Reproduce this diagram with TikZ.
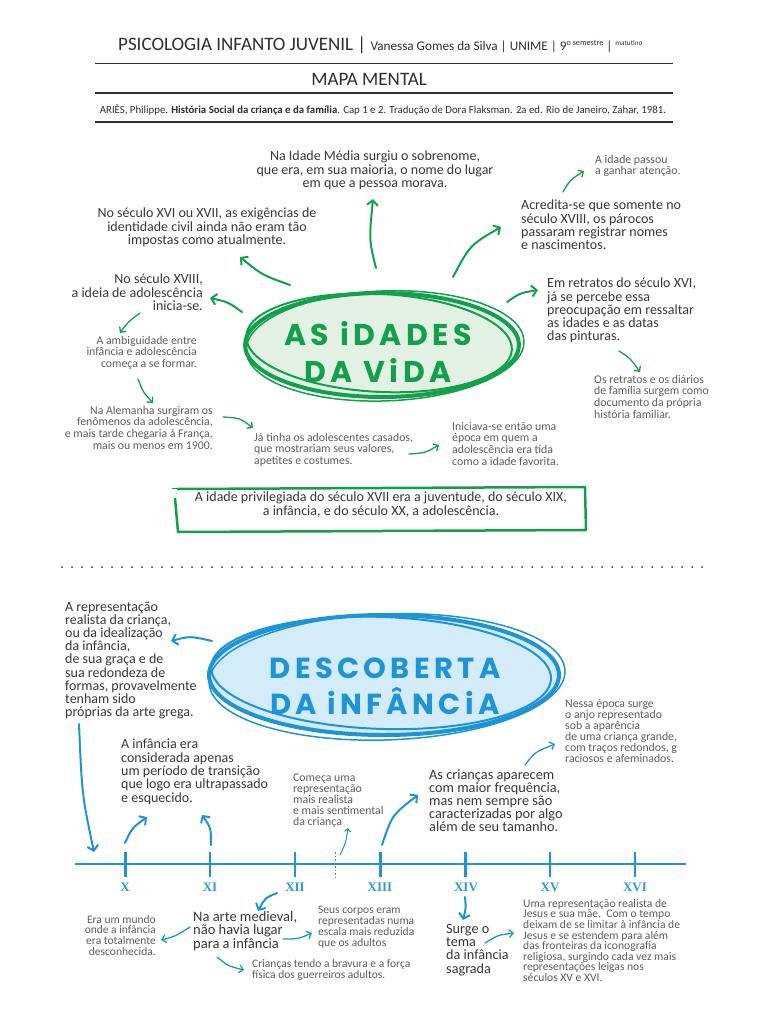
\documentclass[tikz,border=0pt]{standalone}
\usepackage{fontspec}
\setmainfont{Carlito}
\newfontfamily\titlefont{Poppins}[LetterSpace=15]
\newfontfamily\romfont{Liberation Serif}
\usetikzlibrary{arrows.meta}
\definecolor{txt}{HTML}{383838}
\definecolor{txtl}{HTML}{5E5E5E}
\definecolor{hdr}{HTML}{2E2E2E}
\definecolor{gr}{HTML}{12A04B}
\definecolor{grfill}{HTML}{E3F1E5}
\definecolor{bl}{HTML}{1D93D8}
\definecolor{blfill}{HTML}{D4ECFA}
\definecolor{tealc}{HTML}{19A98A}
\definecolor{romc}{HTML}{2A9AE0}
\tikzset{
  main/.style={inner sep=0pt, text=txt, font=\fontsize{14}{13.2}\selectfont},
  small/.style={inner sep=0pt, text=txtl, font=\fontsize{11.8}{11.6}\selectfont},
  garrow/.style={draw=gr, line width=2pt, line cap=round, -{Straight Barb[length=5pt,width=11pt]}},
  gsarrow/.style={draw=gr, line width=1.3pt, line cap=round, -{Straight Barb[length=4pt,width=8pt]}},
  barrow/.style={draw=bl, line width=2pt, line cap=round, -{Straight Barb[length=5pt,width=11pt]}},
  bsarrow/.style={draw=bl, line width=1.3pt, line cap=round, -{Straight Barb[length=4pt,width=8pt,color=tealc]}},
  rom/.style={inner sep=0pt, text=romc, font=\romfont\bfseries\fontsize{13}{14}\selectfont},
  tick/.style={draw=bl, line width=2.5pt},
  rule/.style={draw=hdr, line width=1.2pt}
}
\begin{document}
\begin{tikzpicture}[x=1pt,y=-1pt]
\useasboundingbox (0,0) rectangle (768,1024);
\fill[white] (0,0) rectangle (768,1024);

% ---------- header ----------
\node[anchor=base west, inner sep=0pt, text=hdr, font=\fontsize{19}{20}\selectfont] (hd) at (118,51)
  {PSICOLOGIA INFANTO JUVENIL | {\fontsize{13.2}{14}\selectfont Vanessa Gomes da Silva | UNIME | 9\raisebox{5pt}{\fontsize{8.2}{9}\selectfont o semestre} | \raisebox{5pt}{\fontsize{7.2}{8}\selectfont matutino}}};
\draw[rule, line width=1pt] (95,64) -- (673,64);
\node[anchor=base, inner sep=0pt, text=hdr, font=\fontsize{19}{20}\selectfont] (mm) at (369,85.5) {MAPA MENTAL};
\draw[rule, line width=1.6pt] (95,93) -- (673,93);
\node[anchor=base, inner sep=0pt, text=hdr, font=\fontsize{10.8}{12}\selectfont] (ref) at (383,113.5)
  {ARIÈS, Philippe. \textbf{História Social da criança e da família}. Cap 1 e 2. Tradução de Dora Flaksman. 2a ed. Rio de Janeiro, Zahar, 1981.};
\draw[rule, line width=1.6pt] (95,122) -- (673,122);

% ---------- top ellipse ----------
\fill[grfill] (382,344) ellipse [x radius=136, y radius=52];
\draw[gr, line width=4pt] (382,345) ellipse [x radius=137, y radius=52];
\draw[gr, line width=2pt, rotate around={-3:(382,344)}] (379,343) ellipse [x radius=133, y radius=49];
\draw[gr, line width=1.5pt, rotate around={2:(382,344)}] (385,346) ellipse [x radius=139, y radius=55];
\node[inner sep=0pt, text=gr, align=center, font=\titlefont\bfseries\fontsize{30}{37}\selectfont] (t1) at (378,352) {AS iDADES\\DA ViDA};

% ---------- top texts ----------
\node[main, align=center, anchor=north] (n1) at (375,151) {Na Idade Média surgiu o sobrenome,\\que era, em sua maioria, o nome do lugar\\em que a pessoa morava.};
\node[main, align=center, anchor=north] (n2) at (207,208) {No século XVI ou XVII, as exigências de\\identidade civil ainda não eram tão\\impostas como atualmente.};
\node[main, align=right, anchor=north east] (n3) at (203,274) {No século XVIII,\\a ideia de adolescência\\inicia-se.};
\node[small, align=right, anchor=north east] (n4) at (197,336) {A ambiguidade entre\\infância e adolescência\\começa a se formar.};
\node[small, align=right, anchor=north east] (n5) at (213,406) {Na Alemanha surgiram os\\fenômenos da adolescência,\\e mais tarde chegaria á França,\\mais ou menos em 1900.};
\node[small, align=left, anchor=north west] (n6) at (254,433) {Já tinha os adolescentes casados,\\que mostrariam seus valores,\\apetites e costumes.};
\node[small, align=left, anchor=north west] (n7) at (452,422) {Iniciava-se então uma\\época em quem a\\adolescência era tida\\como a idade favorita.};
\node[small, align=left, anchor=north west] (n8) at (594,375) {Os retratos e os diários\\de família surgem como\\documento da própria\\história familiar.};
\node[main, align=left, anchor=north west] (n9) at (547,278) {Em retratos do século XVI,\\já se percebe essa\\preocupação em ressaltar\\as idades e as datas\\das pinturas.};
\node[main, align=left, anchor=north west] (n10) at (521,200) {Acredita-se que somente no\\século XVIII, os párocos\\passaram registrar nomes\\e nascimentos.};
\node[small, align=left, anchor=north west] (n11) at (595,155) {A idade passou\\a ganhar atenção.};

% ---------- top arrows ----------
\draw[garrow] (376,268) .. controls (369,240) .. (373,199);
\draw[garrow] (290,285) .. controls (262,275) .. (240,257);
\draw[garrow] (242,312) .. controls (228,302) .. (210,298);
\draw[gsarrow] (140,313) .. controls (128,322) .. (120,333);
\draw[gsarrow] (138,379) .. controls (143,392) .. (153,403);
\draw[gsarrow] (223,417) .. controls (240,418) .. (253,428);
\draw[gsarrow] (409,454) .. controls (425,453) .. (439,445);
\draw[garrow] (453,277) .. controls (470,245) .. (501,227);
\draw[gsarrow] (563,192) .. controls (570,180) .. (584,171);
\draw[garrow] (507,302) .. controls (520,293) .. (538,290);
\draw[gsarrow] (619,351) .. controls (630,358) .. (640,372);

% ---------- box ----------
\draw[gr, line width=2.5pt, line join=round] (177,489) -- (585,487) -- (586,530) -- (178,532) -- (175,498);
\draw[gr, line width=1pt] (172,488) -- (420,488);
\node[main, align=center, anchor=north] (bx) at (381,492) {A idade privilegiada do século XVII era a juventude, do século XIX,\\a infância, e do século XX, a adolescência.};

% ---------- dotted separator ----------
\draw[draw=hdr, line width=2pt, line cap=round, dash pattern=on 0pt off 10pt] (62,567) -- (706,567);

% ---------- bottom ellipse ----------
\fill[blfill] (384,675) ellipse [x radius=174, y radius=59];
\draw[bl, line width=4pt] (384,675) ellipse [x radius=175, y radius=60];
\draw[bl, line width=2pt, rotate around={-2:(384,675)}] (381,673) ellipse [x radius=170, y radius=56];
\draw[bl, line width=1.5pt, rotate around={2:(384,675)}] (387,677) ellipse [x radius=178, y radius=63];
\node[inner sep=0pt, text=bl, align=center, font=\titlefont\bfseries\fontsize{29}{36}\selectfont] (t2) at (385,686) {DESCOBERTA\\DA iNFÂNCiA};

% ---------- bottom texts ----------
\node[main, align=left, anchor=north west, font=\fontsize{14}{13.1}\selectfont] (m1) at (65,602) {A representação\\realista da criança,\\ou da idealização\\da infância,\\de sua graça e de\\sua redondeza de\\formas, provavelmente\\tenham sido\\próprias da arte grega.};
\node[main, align=left, anchor=north west, font=\fontsize{14}{13.3}\selectfont] (m2) at (121,739) {A infância era\\considerada apenas\\um período de transição\\que logo era ultrapassado\\e esquecido.};
\node[small, align=left, anchor=north west, font=\fontsize{11.8}{11}\selectfont] (m3) at (293,774) {Começa uma\\representação\\mais realista\\e mais sentimental\\da criança};
\node[main, align=left, anchor=north west, font=\fontsize{14.3}{13}\selectfont] (m4) at (429,769) {As crianças aparecem\\com maior frequência,\\mas nem sempre são\\caracterizadas por algo\\além de seu tamanho.};
\node[small, align=left, anchor=north west, font=\fontsize{11.8}{11}\selectfont] (m5) at (565,699) {Nessa época surge\\o anjo representado\\sob a aparência\\de uma criança grande,\\com traços redondos, g\\raciosos e afeminados.};

% ---------- timeline ----------
\draw[bl, line width=2.5pt] (75,864) -- (686,864);
\draw[tick, line width=3pt] (125,852) -- (125,877);
\draw[tick, line width=2pt] (210,852) -- (210,877);
\draw[tick, line width=2pt] (295,852) -- (295,877);
\draw[tick, line width=3pt] (380,852) -- (380,877);
\draw[tick, line width=3pt] (465,852) -- (465,877);
\draw[tick, line width=2pt] (550,852) -- (550,877);
\draw[tick, line width=2pt] (635,852) -- (635,877);
\draw[bl, line width=1pt, dash pattern=on 1.5pt off 2pt] (335,852) -- (335,877);
\node[rom] (rX) at (125,887) {X};
\node[rom] (rXI) at (210,887) {XI};
\node[rom] (rXII) at (295,887) {XII};
\node[rom] (rXIII) at (380,887) {XIII};
\node[rom] (rXIV) at (466,887) {XIV};
\node[rom] (rXV) at (550,887) {XV};
\node[rom] (rXVI) at (635,887) {XVI};

% ---------- bottom arrows ----------
\draw[barrow] (212,641) .. controls (190,636) .. (171,641);
\draw[barrow] (79,724) .. controls (82,795) .. (94,852);
\draw[barrow] (125,843) .. controls (132,828) .. (147,817);
\draw[barrow] (211,845) .. controls (211,828) .. (202,815);
\draw[draw=bl, line width=1pt, line cap=round, -{Straight Barb[length=3pt,width=6pt,color=gr]}] (340,855) .. controls (346,842) .. (348,828);
\draw[barrow] (382,845) .. controls (392,815) .. (418,795);
\draw[bsarrow] (525,765) .. controls (535,752) .. (555,744);

% ---------- below timeline ----------
\draw[barrow] (277,893) .. controls (265,898) .. (258,911);
\node[main, align=left, anchor=north west, font=\fontsize{14.5}{13.6}\selectfont] (w1) at (193,911) {Na arte medieval,\\não havia lugar\\para a infância};
\draw[bsarrow] (190,927) .. controls (176,936) .. (161,940);
\node[small, align=right, anchor=north east, font=\fontsize{11.5}{10.8}\selectfont] (w2) at (156,915) {Era um mundo\\onde a infância\\era totalmente\\desconhecida.};
\draw[bsarrow] (283,939) .. controls (298,939) .. (312,933);
\node[small, align=left, anchor=north west, font=\fontsize{11.5}{10.8}\selectfont] (w3) at (318,906) {Seus corpos eram\\representadas numa\\escala mais reduzida\\que os adultos};
\draw[bsarrow] (217,957) .. controls (228,966) .. (244,970);
\node[small, align=left, anchor=north west, font=\fontsize{11.5}{11.2}\selectfont] (w4) at (252,959) {Crianças tendo a bravura e a força\\física dos guerreiros adultos.};
\draw[barrow] (465,897) .. controls (466,908) .. (463,920);
\node[main, align=left, anchor=north west, font=\fontsize{14.2}{13.2}\selectfont] (w5) at (446,924) {Surge o\\tema\\da infância\\sagrada};
\draw[bsarrow] (485,943) .. controls (498,935) .. (514,933);
\node[small, align=left, anchor=north west, font=\fontsize{11.6}{10.6}\selectfont] (w6) at (523,899) {Uma representação realista de\\Jesus e sua mãe.\ \ Com o tempo\\deixam de se limitar à infância de\\Jesus e se estendem para além\\das fronteiras da iconografia\\religiosa, surgindo cada vez mais\\representações leigas nos\\séculos XV e XVI.};
\end{tikzpicture}
\end{document}
